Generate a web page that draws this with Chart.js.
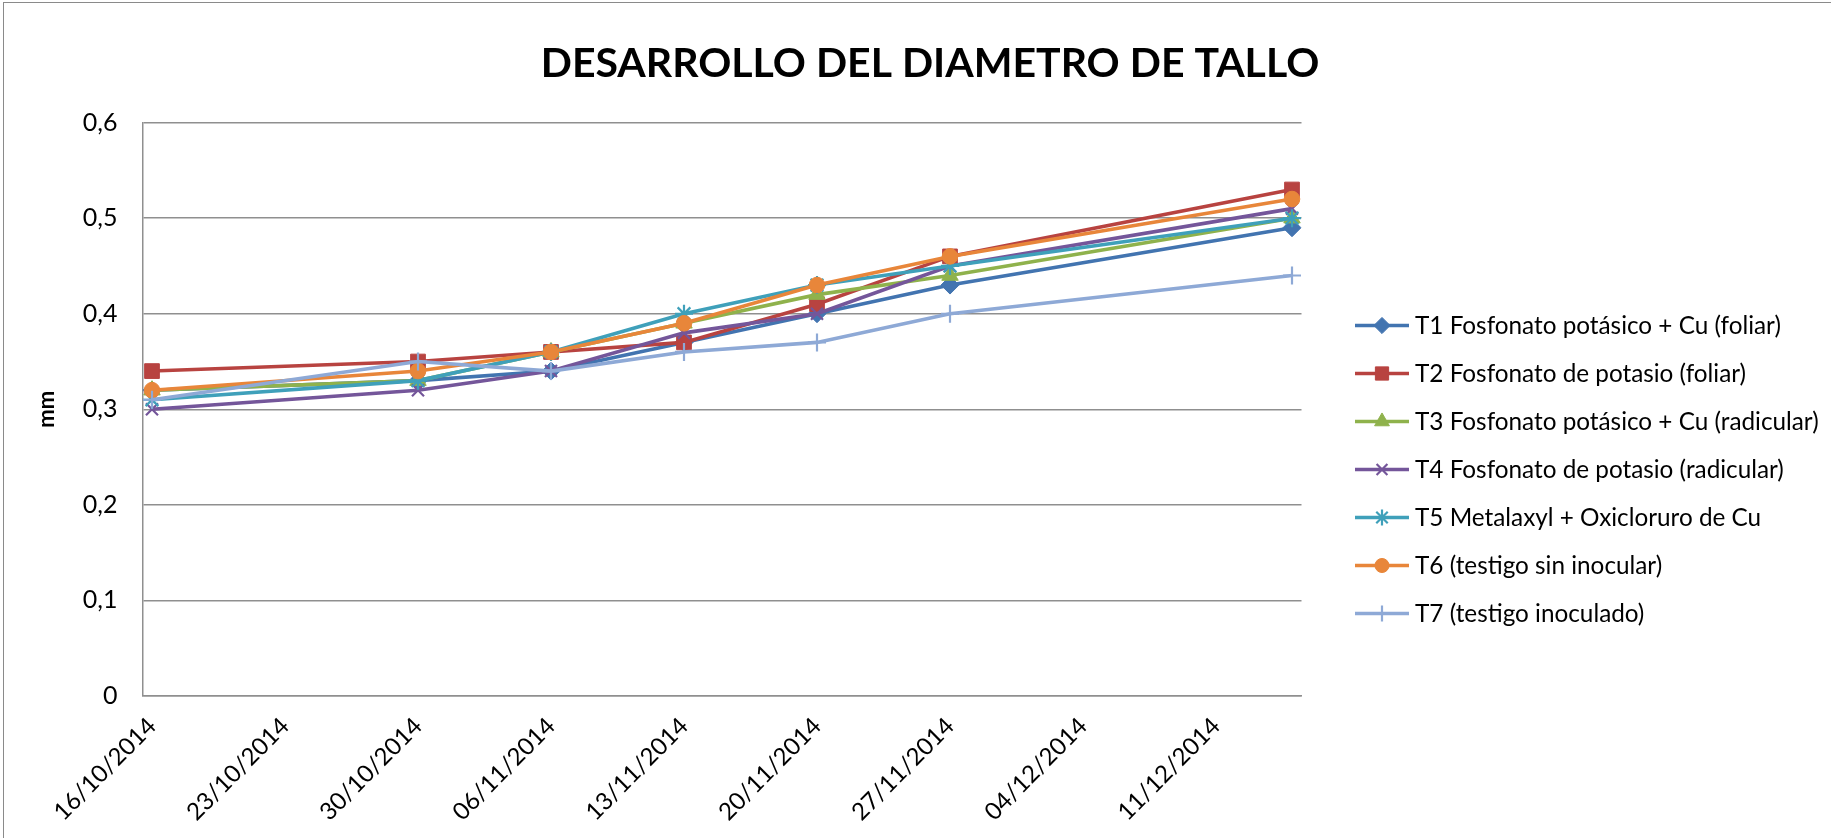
<!DOCTYPE html>
<html><head><meta charset="utf-8">
<script src="https://cdn.jsdelivr.net/npm/chart.js@4.4.0/dist/chart.umd.min.js"></script>
<style>
html,body{margin:0;padding:0;background:#fff;}
#wrap{position:relative;width:1831px;height:838px;overflow:hidden;}
#frame{position:absolute;left:3px;top:2px;width:1900px;height:900px;border-left:1.5px solid #8a8a8a;border-top:1.5px solid #8a8a8a;}
canvas{position:absolute;left:0;top:0;}
</style></head><body>
<div id="wrap"><div id="frame"></div><canvas id="c" width="1831" height="838"></canvas></div>
<script>
const chartTitle = 'DESARROLLO DEL DIAMETRO DE TALLO';
const yAxisTitle = 'mm';
const sampleDates = ['16/10/2014','30/10/2014','06/11/2014','13/11/2014','20/11/2014','27/11/2014','15/12/2014'];
const xTickLabels = ['16/10/2014','23/10/2014','30/10/2014','06/11/2014','13/11/2014','20/11/2014','27/11/2014','04/12/2014','11/12/2014'];
const yTickValues = [0, 0.1, 0.2, 0.3, 0.4, 0.5, 0.6];
const yTickLabels = ['0', '0,1', '0,2', '0,3', '0,4', '0,5', '0,6'];
const seriesNames = [
  'T1 Fosfonato potásico + Cu (foliar)',
  'T2 Fosfonato de potasio (foliar)',
  'T3 Fosfonato potásico + Cu (radicular)',
  'T4 Fosfonato de potasio (radicular)',
  'T5 Metalaxyl + Oxicloruro de Cu',
  'T6 (testigo sin inocular)',
  'T7 (testigo inoculado)'
];
const t1 = [0.32, 0.33, 0.34, 0.37, 0.40, 0.43, 0.49];
const t2 = [0.34, 0.35, 0.36, 0.37, 0.41, 0.46, 0.53];
const t3 = [0.32, 0.33, 0.36, 0.39, 0.42, 0.44, 0.50];
const t4 = [0.30, 0.32, 0.34, 0.38, 0.40, 0.45, 0.51];
const t5 = [0.31, 0.33, 0.36, 0.40, 0.43, 0.45, 0.50];
const t6 = [0.32, 0.34, 0.36, 0.39, 0.43, 0.46, 0.52];
const t7 = [0.31, 0.35, 0.34, 0.36, 0.37, 0.40, 0.44];

const seriesValues = [t1, t2, t3, t4, t5, t6, t7];
const seriesColors = ['#4274B0', '#B84340', '#8FB24C', '#74569A', '#3FA0BA', '#E8863A', '#8EA9D6'];
const seriesMarkers = ['rectRot', 'rect', 'triangle', 'crossRot', 'star', 'circle', 'cross'];
const markerRadius = [9, 10.4, 9.5, 8.5, 9, 7.8, 9];
const markerBorder = [1, 1, 1, 2.2, 2.2, 1, 2.2];

function parseDate(s) {
  const [d, m, y] = s.split('/').map(Number);
  return Date.UTC(y, m - 1, d);
}
const origin = parseDate(sampleDates[0]);
function dayOf(s) { return Math.round((parseDate(s) - origin) / 86400000); }

const datasets = seriesNames.map((name, i) => ({
  label: name,
  data: sampleDates.map((d, j) => ({ x: dayOf(d), y: seriesValues[i][j] })),
  borderColor: seriesColors[i],
  backgroundColor: seriesColors[i],
  pointBackgroundColor: seriesColors[i],
  pointBorderColor: seriesColors[i],
  pointStyle: seriesMarkers[i],
  pointRadius: markerRadius[i],
  pointBorderWidth: markerBorder[i],
  borderWidth: 3.6,
  tension: 0,
  fill: false,
  order: seriesNames.length - 1 - i
}));

const gridColor = '#8f8f8f';

const sideLegend = {
  id: 'sideLegend',
  afterDraw(chart) {
    const ctx = chart.ctx;
    ctx.save();
    chart.data.datasets.forEach((ds, i) => {
      const y = 325.5 + i * 48;
      ctx.strokeStyle = ds.borderColor;
      ctx.lineWidth = 3.5;
      ctx.beginPath();
      ctx.moveTo(1355, y);
      ctx.lineTo(1409, y);
      ctx.stroke();
      ctx.fillStyle = ds.pointBackgroundColor;
      ctx.strokeStyle = ds.pointBorderColor;
      ctx.lineWidth = ds.pointBorderWidth;
      Chart.helpers.drawPoint(ctx, { pointStyle: ds.pointStyle, radius: ds.pointRadius * 0.9, borderWidth: ds.pointBorderWidth, rotation: 0 }, 1382, y);
      ctx.fillStyle = '#000';
      ctx.font = '24.3px Lato';
      ctx.textBaseline = 'middle';
      ctx.textAlign = 'left';
      ctx.fillText(ds.label, 1415, y + 1);
    });
    ctx.restore();
  }
};

new Chart(document.getElementById('c'), {
  type: 'line',
  data: { datasets },
  plugins: [sideLegend],
  options: {
    responsive: false,
    animation: false,
    devicePixelRatio: 1,
    layout: { padding: { left: 29, right: 0, top: 0, bottom: 0 } },
    plugins: {
      legend: { display: false },
      tooltip: { enabled: false },
      title: {
        display: true,
        text: chartTitle,
        color: '#000',
        font: { family: 'Lato', size: 41, weight: 'bold', lineHeight: 1.2 },
        padding: { top: 39, bottom: 34.4 }
      }
    },
    scales: {
      x: {
        type: 'linear',
        min: -0.5,
        max: 60.5,
        afterBuildTicks: s => { s.ticks = xTickLabels.map(l => ({ value: dayOf(l) })); },
        afterFit: s => { s.height = 142; },
        ticks: {
          autoSkip: false,
          minRotation: 45,
          maxRotation: 45,
          padding: 16,
          color: '#000',
          font: { family: 'Lato', size: 24 },
          callback: v => { const k = xTickLabels.findIndex(l => dayOf(l) === v); return k >= 0 ? xTickLabels[k] : ''; }
        },
        grid: { display: false, drawTicks: false },
        border: { display: true, color: gridColor, width: 1.5 }
      },
      y: {
        type: 'linear',
        min: 0,
        max: 0.6,
        afterBuildTicks: s => { s.ticks = yTickValues.map(v => ({ value: v })); },
        afterFit: s => { s.width = 113.5; },
        ticks: {
          padding: 25,
          color: '#000',
          font: { family: 'Lato', size: 25 },
          callback: (v, idx) => yTickLabels[idx]
        },
        grid: { color: gridColor, lineWidth: 1.5, drawTicks: false },
        border: { display: true, color: gridColor, width: 1.5 },
        title: {
          display: true,
          text: yAxisTitle,
          color: '#000',
          font: { family: 'Lato', size: 22, weight: 'bold' },
          padding: { top: 5, bottom: 0 }
        }
      },
      yRight: {
        type: 'linear',
        position: 'right',
        display: true,
        afterFit: s => { s.width = 529.5; },
        ticks: { display: false },
        grid: { display: false, drawOnChartArea: false, drawTicks: false },
        border: { display: false }
      }
    }
  }
});
</script>
</body></html>
